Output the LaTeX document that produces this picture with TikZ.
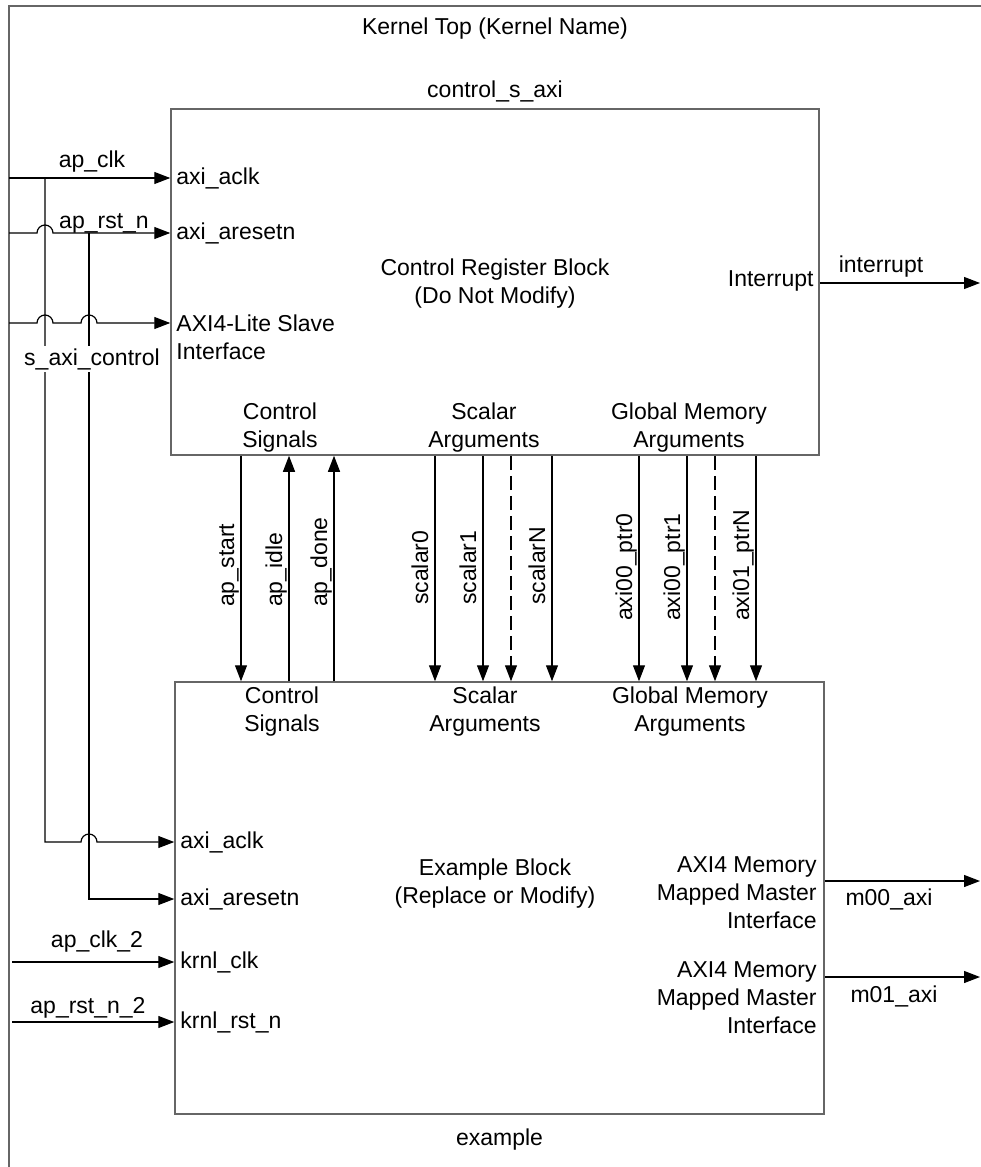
\documentclass[tikz,border=0pt]{standalone}
\usepackage{fontspec}
\setmainfont{Liberation Sans}
\usetikzlibrary{arrows.meta,calc}

\begin{document}
\begin{tikzpicture}[x=1pt,y=-1pt,
  every node/.style={inner sep=0pt,font=\fontsize{23}{28}\selectfont},
  blk/.style={draw=black!60,line width=1.5pt},
  sig/.style={line width=1.2pt,-{Triangle[length=16pt,width=12pt]}},
  port/.style={anchor=west,xshift=6pt},
  oport/.style={anchor=east,xshift=-8pt,align=right},
  grp/.style={align=center}]
  \def\hop{8}
  \useasboundingbox (0,0) rectangle (980,1167);
  % kernel frame
  \draw[blk] (9,1170) -- (9,6) -- (990,6);
  \node[anchor=base] (ktop) at (495,34) {Kernel Top (Kernel Name)};
  % control register block
  \node[blk,minimum width=648pt,minimum height=346pt] (ctl) at (495,282) {};
  \node[anchor=base] (ctlname) at (495,97) {control\_s\_axi};
  \node[grp] (ctltxt) at (495,284) {Control Register Block\\(Do Not Modify)};
  \node[grp] (ctlcs) at (280,428) {Control\\Signals};
  \node[grp] (ctlsa) at (484,428) {Scalar\\Arguments};
  \node[grp] (ctlgm) at (689,428) {Global Memory\\Arguments};
  % example block
  \node[blk,minimum width=649pt,minimum height=432pt] (ex) at (499.5,898) {};
  \node[anchor=base] (exname) at (499.5,1145) {example};
  \node[grp] (extxt) at (495,884) {Example Block\\(Replace or Modify)};
  \node[grp] (excs) at (282,712) {Control\\Signals};
  \node[grp] (exsa) at (485,712) {Scalar\\Arguments};
  \node[grp] (exgm) at (690,712) {Global Memory\\Arguments};
  % inputs of the control block
  \coordinate (clkin) at (9,178);
  \coordinate (rstin) at (9,233);
  \coordinate (saxiin) at (9,323);
  \coordinate (clkbus) at (45,178);
  \coordinate (rstbus) at (89,233);
  \draw[sig] (clkin) -- (ctl.west |- clkin);
  \draw[sig] (rstin) -- ($(clkbus |- rstin)+(-\hop,0)$)
    arc[start angle=180,end angle=360,radius=\hop] -- (ctl.west |- rstin);
  \draw[sig] (saxiin) -- ($(clkbus |- saxiin)+(-\hop,0)$)
    arc[start angle=180,end angle=360,radius=\hop]
    -- ($(rstbus |- saxiin)+(-\hop,0)$)
    arc[start angle=180,end angle=360,radius=\hop] -- (ctl.west |- saxiin);
  \node[port] (aclk) at (ctl.west |- clkin) {axi\_aclk};
  \node[port] (arst) at (ctl.west |- rstin) {axi\_aresetn};
  \node[port,align=left] (saxi) at ($(ctl.west |- saxiin)+(0,14)$) {AXI4-Lite Slave\\Interface};
  \node[anchor=base] (clklbl) at (92,167) {ap\_clk};
  \node[anchor=base] (rstlbl) at (104,228) {ap\_rst\_n};
  % clock and reset down to the example block
  \coordinate (exclk) at (ex.west |- 0,842);
  \coordinate (exrst) at (ex.west |- 0,899);
  \draw[sig] (clkbus) |- ($(rstbus |- exclk)+(-\hop,0)$)
    arc[start angle=180,end angle=360,radius=\hop] -- (exclk);
  \draw[sig] (rstbus) |- (exrst);
  \node[anchor=base,fill=white,inner sep=2pt] (saxilbl) at (92,365) {s\_axi\_control};
  \node[port] (exaclk) at (exclk) {axi\_aclk};
  \node[port] (exarst) at (exrst) {axi\_aresetn};
  % kernel clock and reset
  \coordinate (clk2in) at (12,962);
  \coordinate (rst2in) at (12,1022);
  \draw[sig] (clk2in) -- (ex.west |- clk2in);
  \draw[sig] (rst2in) -- (ex.west |- rst2in);
  \node[port] (kclk) at (ex.west |- clk2in) {krnl\_clk};
  \node[port] (krst) at (ex.west |- rst2in) {krnl\_rst\_n};
  \node[anchor=base] (clk2lbl) at (97,947) {ap\_clk\_2};
  \node[anchor=base] (rst2lbl) at (88,1013) {ap\_rst\_n\_2};
  % signals between the blocks
  \foreach \x/\y/\name in {241/607/ap\_start,435/605/scalar0,483/605/scalar1,
      552/605/scalarN,639/621/axi00\_ptr0,687/621/axi00\_ptr1,756/621/axi01\_ptrN}{
    \draw[sig] (ctl.south -| \x,0) -- (ex.north -| \x,0);
    \node[rotate=90,anchor=base west] (v\x) at (\x-7,\y) {\name};
  }
  \foreach \x/\name in {289/ap\_idle,334/ap\_done}{
    \draw[sig] (ex.north -| \x,0) -- (ctl.south -| \x,0);
    \node[rotate=90,anchor=base west] (v\x) at (\x-7,607) {\name};
  }
  \foreach \x in {511,715}
    \draw[sig,dash pattern=on 14pt off 6pt] (ctl.south -| \x,0) -- (ex.north -| \x,0);
  % outputs
  \coordinate (irqout) at (980,283);
  \coordinate (m0out) at (980,881);
  \coordinate (m1out) at (980,977);
  \draw[sig] (ctl.east |- irqout) -- (irqout);
  \draw[sig] (ex.east |- m0out) -- (m0out);
  \draw[sig] (ex.east |- m1out) -- (m1out);
  \node[oport,xshift=2pt] (irqport) at (ctl.east |- 0,281) {Interrupt};
  \node[anchor=base] (irqlbl) at (881,272) {interrupt};
  \node[oport] (m0port) at (ex.east |- 0,893) {AXI4 Memory\\Mapped Master\\Interface};
  \node[oport] (m1port) at (ex.east |- 0,998) {AXI4 Memory\\Mapped Master\\Interface};
  \node[anchor=base] (m0lbl) at (889,905) {m00\_axi};
  \node[anchor=base] (m1lbl) at (894,1002) {m01\_axi};
\end{tikzpicture}
\end{document}
